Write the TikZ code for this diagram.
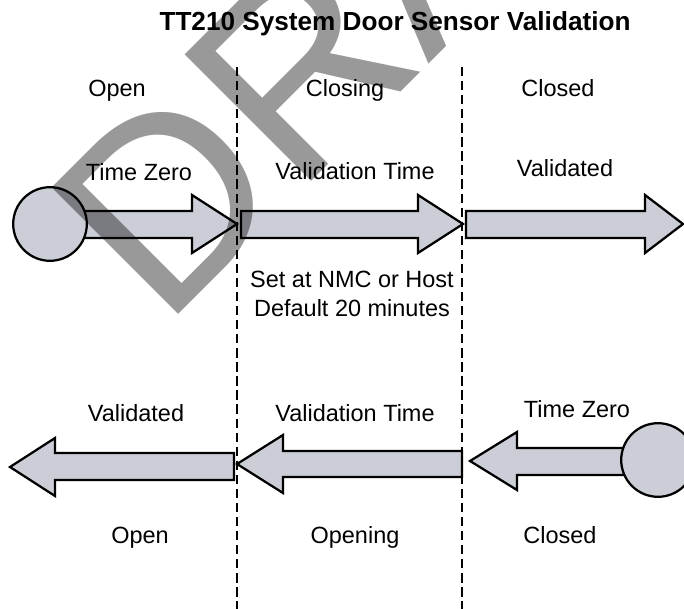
\documentclass[tikz,border=0pt]{standalone}
\usepackage{fontspec}
\setmainfont{Liberation Sans}
\definecolor{arrowfill}{RGB}{203,206,214}
\tikzset{
  lbl/.style={font=\fontsize{16.7}{20}\selectfont, anchor=base, inner sep=0pt},
  blockarrow/.style={draw=black, fill=arrowfill, line width=1.6pt, line join=miter},
  zerodot/.style={circle, blockarrow, minimum size=1.84cm, inner sep=0pt},
  divider/.style={line width=1.6pt, dash pattern=on 6.6pt off 3.4pt},
}
\begin{document}
\begin{tikzpicture}[x=0.025cm, y=-0.025cm]
\useasboundingbox (0,0) rectangle (684,609);
\clip (0,0) rectangle (684,609);
% closing: open -> closing -> closed
\filldraw[blockarrow] (50,211) -- (192,211) -- (192,195) -- (237,224) -- (192,253) -- (192,238) -- (50,238);
\node[zerodot] (zerotop) at (50,224) {};
\filldraw[blockarrow] (241,211) -- (418,211) -- (418,195) -- (463,224) -- (418,253) -- (418,238) -- (241,238) -- cycle;
\filldraw[blockarrow] (466,211) -- (645,211) -- (645,195) -- (683,224) -- (645,253) -- (645,238) -- (466,238) -- cycle;
% opening: closed -> opening -> open
\filldraw[blockarrow] (234,453) -- (55,453) -- (55,438) -- (10,467) -- (55,496) -- (55,480) -- (234,480) -- cycle;
\filldraw[blockarrow] (462,451) -- (283,451) -- (283,435) -- (237,464) -- (283,493) -- (283,477) -- (462,477) -- cycle;
\filldraw[blockarrow] (658,448) -- (517,448) -- (517,432) -- (470,461) -- (517,490) -- (517,475) -- (658,475);
\node[zerodot] (zerobot) at (658,460) {};
% phase dividers
\draw[divider] (237,67) -- (237,612);
\draw[divider] (462,67) -- (462,612);
% labels
\node[anchor=base, inner sep=0pt, font=\fontsize{18.6}{22}\selectfont\bfseries] (title) at (395,31) {TT210 System Door Sensor Validation};
\node[lbl] (open) at (117,97) {Open};
\node[lbl] (closing) at (345,97) {Closing};
\node[lbl] (closed) at (558,97) {Closed};
\node[lbl] (tzero) at (139,181) {Time Zero};
\node[lbl] (vtime) at (355,180) {Validation Time};
\node[lbl] (valid) at (565,177) {Validated};
\node[lbl] (setat) at (352,288) {Set at NMC or Host};
\node[lbl] (default) at (352,317) {Default 20 minutes};
\node[lbl] (valid2) at (136,421) {Validated};
\node[lbl] (vtime2) at (355,421) {Validation Time};
\node[lbl] (tzero2) at (577,418) {Time Zero};
\node[lbl] (open2) at (140,543) {Open};
\node[lbl] (opening) at (355,543) {Opening};
\node[lbl] (closed2) at (560,543) {Closed};
% watermark
\node[font=\fontsize{185}{185}\selectfont, text=black, text opacity=0.4, rotate=45, anchor=base west, inner sep=0pt] (draft) at (163,330) {DRAFT};
\end{tikzpicture}
\end{document}
